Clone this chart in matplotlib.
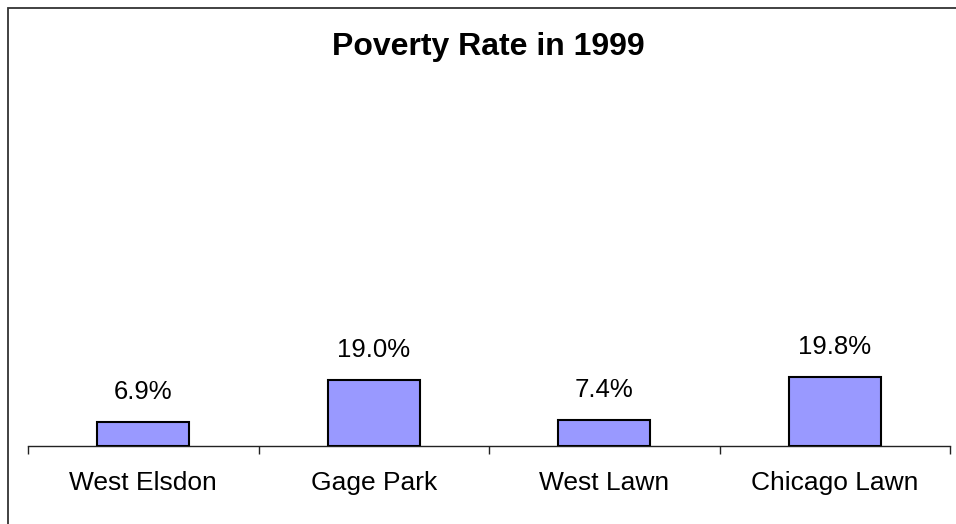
import matplotlib
matplotlib.use("Agg")
import matplotlib.pyplot as plt
from matplotlib.patches import Rectangle
import numpy as np

categories = ["West Elsdon", "Gage Park", "West Lawn", "Chicago Lawn"]
values = [6.9, 19.0, 7.4, 19.8]
value_labels = ["6.9%", "19.0%", "7.4%", "19.8%"]
title = "Poverty Rate in 1999"

plt.rcParams['font.family'] = ['Liberation Sans', 'DejaVu Sans']

W, H = 956, 524
fig = plt.figure(figsize=(W / 100, H / 100), dpi=100)
fig.patch.set_facecolor("white")

# outer border (cut at right / bottom edge)
fig.add_artist(Rectangle((8 / W, -0.1), 1.2, 1.1 - 8 / H,
                         transform=fig.transFigure, fill=False,
                         edgecolor="#333333", linewidth=1.3))

ax_left, ax_right = 28 / W, 950 / W
ax_bottom, ax_top = (H - 446) / H, (H - 96) / H
ax = fig.add_axes([ax_left, ax_bottom, ax_right - ax_left, ax_top - ax_bottom])
ax.set_facecolor("none")

x = np.arange(len(categories))
ax.bar(x, values, width=0.4, color="#9999FF", edgecolor="black", linewidth=1.5, zorder=3)
ax.set_xlim(-0.5, len(categories) - 0.5)
ax.set_ylim(0, 100)

for xi, v, lab in zip(x, values, value_labels):
    ax.annotate(lab, (xi, v), xytext=(0, 21.5), textcoords="offset points",
                ha="center", va="center", fontsize=18.5, color="black")

for s in ["left", "right", "top"]:
    ax.spines[s].set_visible(False)
ax.spines["bottom"].set_color("#222222")
ax.spines["bottom"].set_linewidth(1.0)
ax.set_yticks([])

ax.set_xticks(np.arange(-0.5, len(categories), 1.0))
ax.set_xticklabels([])
ax.tick_params(axis="x", which="major", length=6, width=1.0, color="#222222", direction="out")
ax.set_xticks(x, minor=True)
ax.set_xticklabels(categories, minor=True, fontsize=19)
ax.tick_params(axis="x", which="minor", length=0, pad=18)

fig.text(488 / W, (H - 47) / H, title, ha="center", va="center",
         fontsize=23, fontweight="bold", color="black")

fig.savefig("out.png", dpi=100)
